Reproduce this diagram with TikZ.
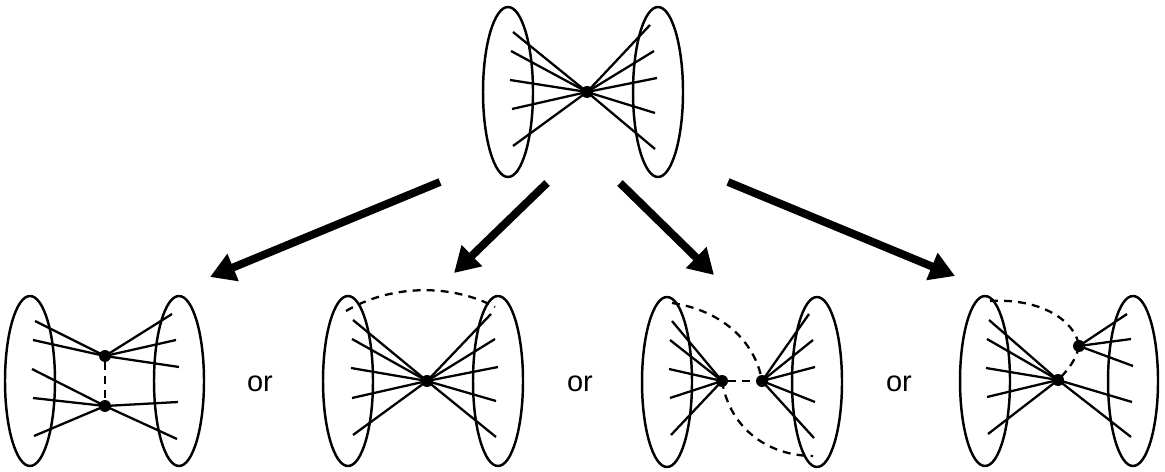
\documentclass[tikz,border=0pt]{standalone}
\usepackage{fontspec}
\setmainfont{Liberation Sans}
\usetikzlibrary{shapes.geometric,arrows.meta}
\begin{document}
\begin{tikzpicture}[x=0.02cm,y=-0.02cm,
  blob/.style={draw, ellipse, line width=1.4pt, minimum width=1cm, minimum height=3.4cm, inner sep=0pt},
  dot/.style={circle, fill, minimum size=0.24cm, inner sep=0pt},
  edge/.style={line width=1.3pt},
  dashlink/.style={line width=1.3pt, dash pattern=on 4.5pt off 3.5pt},
  bigarrow/.style={line width=4.5pt, -{Triangle[length=0.5cm,width=0.56cm]}},
  ortext/.style={font=\fontsize{16.5}{20}\selectfont, inner sep=0pt}]
\useasboundingbox (0,0) rectangle (1165,472);

% ---------- top diagram ----------
\node[blob] (tL) at (508,92) {};
\node[blob] (tR) at (658,92) {};
\node[dot] (t) at (587,92) {};
\foreach \x/\y [count=\i] in {513/32,511/51,510/80,512/109,513/146,
                              650/25,654/51,657/78,655/113,655/149} {
  \coordinate (te\i) at (\x,\y);
  \draw[edge] (t.center) -- (te\i);
}

% ---------- arrows ----------
\coordinate (a1s) at (440,182); \coordinate (a1e) at (210,277);
\coordinate (a2s) at (547,183); \coordinate (a2e) at (454,273);
\coordinate (a3s) at (620,183); \coordinate (a3e) at (714,275);
\coordinate (a4s) at (728,182); \coordinate (a4e) at (955,276);
\draw[bigarrow] (a1s) -- (a1e);
\draw[bigarrow] (a2s) -- (a2e);
\draw[bigarrow] (a3s) -- (a3e);
\draw[bigarrow] (a4s) -- (a4e);

% ---------- diagram 1 ----------
\node[blob] (d1L) at (30,381) {};
\node[blob] (d1R) at (179,381) {};
\node[dot] (A) at (105,356) {};
\node[dot] (B) at (105,406) {};
\foreach \x/\y [count=\i] in {35/321,33/340,172/314,176/340,179/367} {
  \coordinate (ae\i) at (\x,\y);
  \draw[edge] (A.center) -- (ae\i);
}
\foreach \x/\y [count=\i] in {32/369,33/398,34/436,178/402,177/439} {
  \coordinate (be\i) at (\x,\y);
  \draw[edge] (B.center) -- (be\i);
}
\draw[dashlink] (A) -- (B);

\node[ortext] (or1) at (260,384) {or};

% ---------- diagram 2 ----------
\node[blob] (d2L) at (348,381) {};
\node[blob] (d2R) at (498,381) {};
\node[dot] (m) at (427,381) {};
\foreach \x/\y [count=\i] in {353/320,352/339,351/368,352/398,353/435,
                              491/314,495/339,498/367,496/401,496/437} {
  \coordinate (me\i) at (\x,\y);
  \draw[edge] (m.center) -- (me\i);
}
\coordinate (arcS) at (346,311);
\coordinate (arcE) at (495,307);
\draw[dashlink] (arcS) .. controls (390,285) and (450,283) .. (arcE);

\node[ortext] (or2) at (580,384) {or};

% ---------- diagram 3 ----------
\node[blob] (d3L) at (667,382) {};
\node[blob] (d3R) at (817,382) {};
\node[dot] (L) at (722,381) {};
\node[dot] (R) at (762,381) {};
\foreach \x/\y [count=\i] in {672/321,670/340,669/369,670/398,671/435} {
  \coordinate (le\i) at (\x,\y);
  \draw[edge] (L.center) -- (le\i);
}
\foreach \x/\y [count=\i] in {809/314,813/340,815/367,815/402,814/438} {
  \coordinate (re\i) at (\x,\y);
  \draw[edge] (R.center) -- (re\i);
}
\draw[dashlink] (L) -- (R);
\coordinate (up3) at (672,303);
\coordinate (lo3) at (813,456);
\draw[dashlink] (up3) .. controls (720,310) and (755,340) .. (R.center);
\draw[dashlink] (L.center) .. controls (730,430) and (770,456) .. (lo3);

\node[ortext] (or3) at (899,384) {or};

% ---------- diagram 4 ----------
\node[blob] (d4L) at (985,381) {};
\node[blob] (d4R) at (1133,381) {};
\node[dot] (C) at (1058,380) {};
\node[dot] (D) at (1079,346) {};
\foreach \x/\y [count=\i] in {989/320,987/339,986/368,987/397,988/434,
                              1132/402,1131/437} {
  \coordinate (ce\i) at (\x,\y);
  \draw[edge] (C.center) -- (ce\i);
}
\foreach \x/\y [count=\i] in {1127/314,1131/339,1133/366} {
  \coordinate (de\i) at (\x,\y);
  \draw[edge] (D.center) -- (de\i);
}
\coordinate (up4) at (990,301);
\draw[dashlink] (up4) .. controls (1040,298) and (1075,320) .. (D.center);
\draw[dashlink] (D.center) .. controls (1076,360) and (1068,370) .. (C.center);
\end{tikzpicture}
\end{document}
